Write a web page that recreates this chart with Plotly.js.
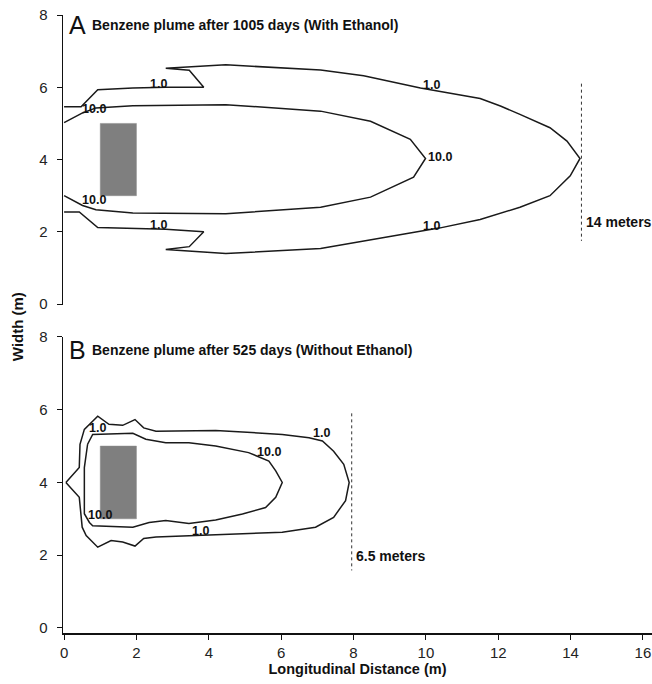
<!DOCTYPE html>
<html>
<head>
<meta charset="utf-8">
<script src="https://cdn.plot.ly/plotly-3.0.1.min.js"></script>
<style>html,body{margin:0;padding:0;background:#fff;}#chart{width:652px;height:684px;}</style>
</head>
<body>
<div id="chart"></div>
<script>
// ---------- Panel A: Benzene plume after 1005 days (With Ethanol) ----------
var aContour1X = [0, 0.47, 0.93, 1.9, 2.81, 3.86, 3.46, 2.81, 4.47, 7.09, 8.28, 9.85, 11.5, 12.06, 12.6, 13.43, 13.9, 14.26, 13.99, 13.43, 12.6, 11.5, 10.4, 8.75, 7.09, 4.47, 2.81, 3.46, 3.86, 2.81, 1.9, 0.93, 0.42, 0];
var aContour1Y = [5.46, 5.46, 5.93, 5.98, 6.0, 6.0, 6.47, 6.53, 6.62, 6.48, 6.32, 5.98, 5.69, 5.48, 5.25, 4.88, 4.51, 4.03, 3.55, 3.0, 2.68, 2.34, 2.11, 1.83, 1.54, 1.4, 1.51, 1.59, 2.0, 2.07, 2.09, 2.12, 2.55, 2.55];
var aContour10X = [0, 0.51, 0.88, 1.9, 4.47, 7.09, 8.47, 9.57, 9.99, 9.66, 8.47, 7.09, 4.47, 1.9, 0.88, 0.51, 0];
var aContour10Y = [5.02, 5.29, 5.43, 5.49, 5.52, 5.34, 5.06, 4.56, 4.03, 3.51, 2.96, 2.68, 2.5, 2.52, 2.61, 2.73, 3.0];
var aLabelText = ["1.0", "1.0", "10.0", "10.0", "1.0", "1.0", "10.0"];
var aLabelX = [2.62, 2.62, 0.82, 0.82, 10.15, 10.15, 10.4];
var aLabelY = [6.1, 2.2, 5.4, 2.88, 6.06, 2.16, 4.06];
var aExtentX = [14.3, 14.3];
var aExtentY = [6.1, 1.75];
var aExtentText = "14 meters";

// ---------- Panel B: Benzene plume after 525 days (Without Ethanol) ----------
var bContour1X = [0.05, 0.42, 0.44, 0.56, 0.93, 1.24, 1.62, 1.96, 2.2, 2.54, 4.19, 6.03, 6.77, 7.14, 7.45, 7.73, 7.88, 7.78, 7.45, 6.95, 6.03, 4.19, 3.64, 2.54, 2.2, 1.96, 1.62, 1.3, 0.93, 0.61, 0.5, 0.42, 0.05];
var bContour1Y = [4.0, 4.41, 5.05, 5.46, 5.82, 5.6, 5.57, 5.73, 5.5, 5.41, 5.43, 5.32, 5.23, 5.14, 4.86, 4.5, 4.0, 3.5, 3.04, 2.77, 2.63, 2.55, 2.54, 2.5, 2.46, 2.25, 2.36, 2.4, 2.22, 2.54, 2.77, 3.59, 4.0];
var bContour10X = [0.65, 0.79, 1.9, 2.26, 2.81, 3.45, 4.19, 5.1, 5.66, 5.85, 6.03, 5.85, 5.57, 4.93, 4.19, 3.45, 2.81, 2.35, 1.9, 0.79, 0.7, 0.56, 0.56, 0.56, 0.65];
var bContour10Y = [5.05, 5.32, 5.35, 5.19, 5.09, 5.09, 5.0, 4.82, 4.59, 4.32, 4.0, 3.59, 3.31, 3.13, 2.97, 2.87, 2.95, 2.9, 2.77, 2.81, 2.9, 3.14, 3.5, 4.41, 5.05];
var bLabelText = ["1.0", "10.0", "10.0", "1.0", "1.0"];
var bLabelX = [0.92, 1.0, 5.66, 7.12, 3.78];
var bLabelY = [5.5, 3.1, 4.85, 5.36, 2.66];
var bExtentX = [7.95, 7.95];
var bExtentY = [5.9, 1.58];
var bExtentText = "6.5 meters";

// ---------- Source zone (grey block) ----------
var sourceX = [1, 2, 2, 1, 1];
var sourceY = [3, 3, 5, 5, 3];

// ---------- Axes ----------
var xTicks = [0, 2, 4, 6, 8, 10, 12, 14, 16];
var yTicks = [0, 2, 4, 6, 8];
var panelTitleA = "Benzene plume after 1005 days (With Ethanol)";
var panelTitleB = "Benzene plume after 525 days (Without Ethanol)";
var xTitle = "Longitudinal Distance (m)";
var yTitle = "Width (m)";

var FONT = "Liberation Sans, Arial, sans-serif";
var lineStyle = {color: "#1a1a1a", width: 1.5};

function contour(x, y, xa, ya) {
  return {x: x, y: y, xaxis: xa, yaxis: ya, type: "scatter", mode: "lines", line: lineStyle, hoverinfo: "skip", showlegend: false};
}
function source(xa, ya) {
  return {x: sourceX, y: sourceY, xaxis: xa, yaxis: ya, type: "scatter", mode: "lines", fill: "toself", fillcolor: "#7f7f7f", line: {color: "#8a8a8a", width: 0.5}, hoverinfo: "skip", showlegend: false};
}
function extent(x, y, xa, ya) {
  return {x: x, y: y, xaxis: xa, yaxis: ya, type: "scatter", mode: "lines", line: {color: "#333", width: 1, dash: "dot"}, hoverinfo: "skip", showlegend: false};
}

var traces = [
  source("x2", "y2"),
  contour(aContour1X, aContour1Y, "x2", "y2"),
  contour(aContour10X, aContour10Y, "x2", "y2"),
  extent(aExtentX, aExtentY, "x2", "y2"),
  source("x", "y"),
  contour(bContour1X, bContour1Y, "x", "y"),
  contour(bContour10X, bContour10Y, "x", "y"),
  extent(bExtentX, bExtentY, "x", "y")
];

var annotations = [];
function addLabels(texts, xs, ys, xr, yr) {
  for (var i = 0; i < texts.length; i++) {
    annotations.push({x: xs[i], y: ys[i], xref: xr, yref: yr, text: "<b>" + texts[i] + "</b>", showarrow: false,
      font: {family: FONT, size: 12.5, color: "#111"}, xanchor: "center", yanchor: "middle"});
  }
}
addLabels(aLabelText, aLabelX, aLabelY, "x2", "y2");
addLabels(bLabelText, bLabelX, bLabelY, "x", "y");

annotations.push({x: 14.36, y: 2.28, xref: "x2", yref: "y2", text: "<b>" + aExtentText + "</b>", showarrow: false, xanchor: "left", yanchor: "middle", font: {family: FONT, size: 14, color: "#111"}});
annotations.push({x: 8.02, y: 1.98, xref: "x", yref: "y", text: "<b>" + bExtentText + "</b>", showarrow: false, xanchor: "left", yanchor: "middle", font: {family: FONT, size: 14, color: "#111"}});

// panel titles
annotations.push({x: 0.08, y: 7.72, xref: "x2", yref: "y2", text: "A", showarrow: false, xanchor: "left", yanchor: "middle", font: {family: FONT, size: 25, color: "#111"}});
annotations.push({x: 0.72, y: 7.72, xref: "x2", yref: "y2", text: "<b>" + panelTitleA + "</b>", showarrow: false, xanchor: "left", yanchor: "middle", font: {family: FONT, size: 14, color: "#111"}});
annotations.push({x: 0.08, y: 7.64, xref: "x", yref: "y", text: "B", showarrow: false, xanchor: "left", yanchor: "middle", font: {family: FONT, size: 25, color: "#111"}});
annotations.push({x: 0.72, y: 7.64, xref: "x", yref: "y", text: "<b>" + panelTitleB + "</b>", showarrow: false, xanchor: "left", yanchor: "middle", font: {family: FONT, size: 14, color: "#111"}});

// y title
annotations.push({x: -0.078, y: 0.495, xref: "paper", yref: "paper", text: "<b>" + yTitle + "</b>", textangle: -90, showarrow: false, xanchor: "center", yanchor: "middle", font: {family: FONT, size: 15, color: "#111"}});

var yAxisCommon = {
  tickvals: yTicks, ticks: "outside", ticklen: 5, tickwidth: 1, tickcolor: "#111",
  showline: true, linecolor: "#111", linewidth: 1.5, showgrid: false, zeroline: false,
  tickfont: {family: FONT, size: 15, color: "#222"}, ticklabelstandoff: 6, fixedrange: true
};

var layout = {
  width: 652, height: 684,
  margin: {l: 63, r: 0, t: 15, b: 51},
  paper_bgcolor: "#fff", plot_bgcolor: "#fff",
  showlegend: false,
  xaxis: {
    domain: [0, 1], range: [-0.03, 16.25], anchor: "y",
    tickvals: xTicks, ticks: "outside", ticklen: 5, tickwidth: 1, tickcolor: "#111",
    showline: true, linecolor: "#111", linewidth: 1.5, showgrid: false, zeroline: false,
    tickfont: {family: FONT, size: 15, color: "#222"},
    title: {text: "<b>" + xTitle + "</b>", font: {family: FONT, size: 14.5, color: "#111"}, standoff: 4}
  },
  xaxis2: {domain: [0, 1], range: [-0.03, 16.25], anchor: "y2", visible: false},
  yaxis: Object.assign({}, yAxisCommon, {domain: [0, 0.479], range: [-0.14, 8], anchor: "x"}),
  yaxis2: Object.assign({}, yAxisCommon, {domain: [0.531, 1], range: [-0.02, 8], anchor: "x2"}),
  annotations: annotations
};

Plotly.newPlot("chart", traces, layout, {displayModeBar: false, staticPlot: true});
</script>
</body>
</html>
